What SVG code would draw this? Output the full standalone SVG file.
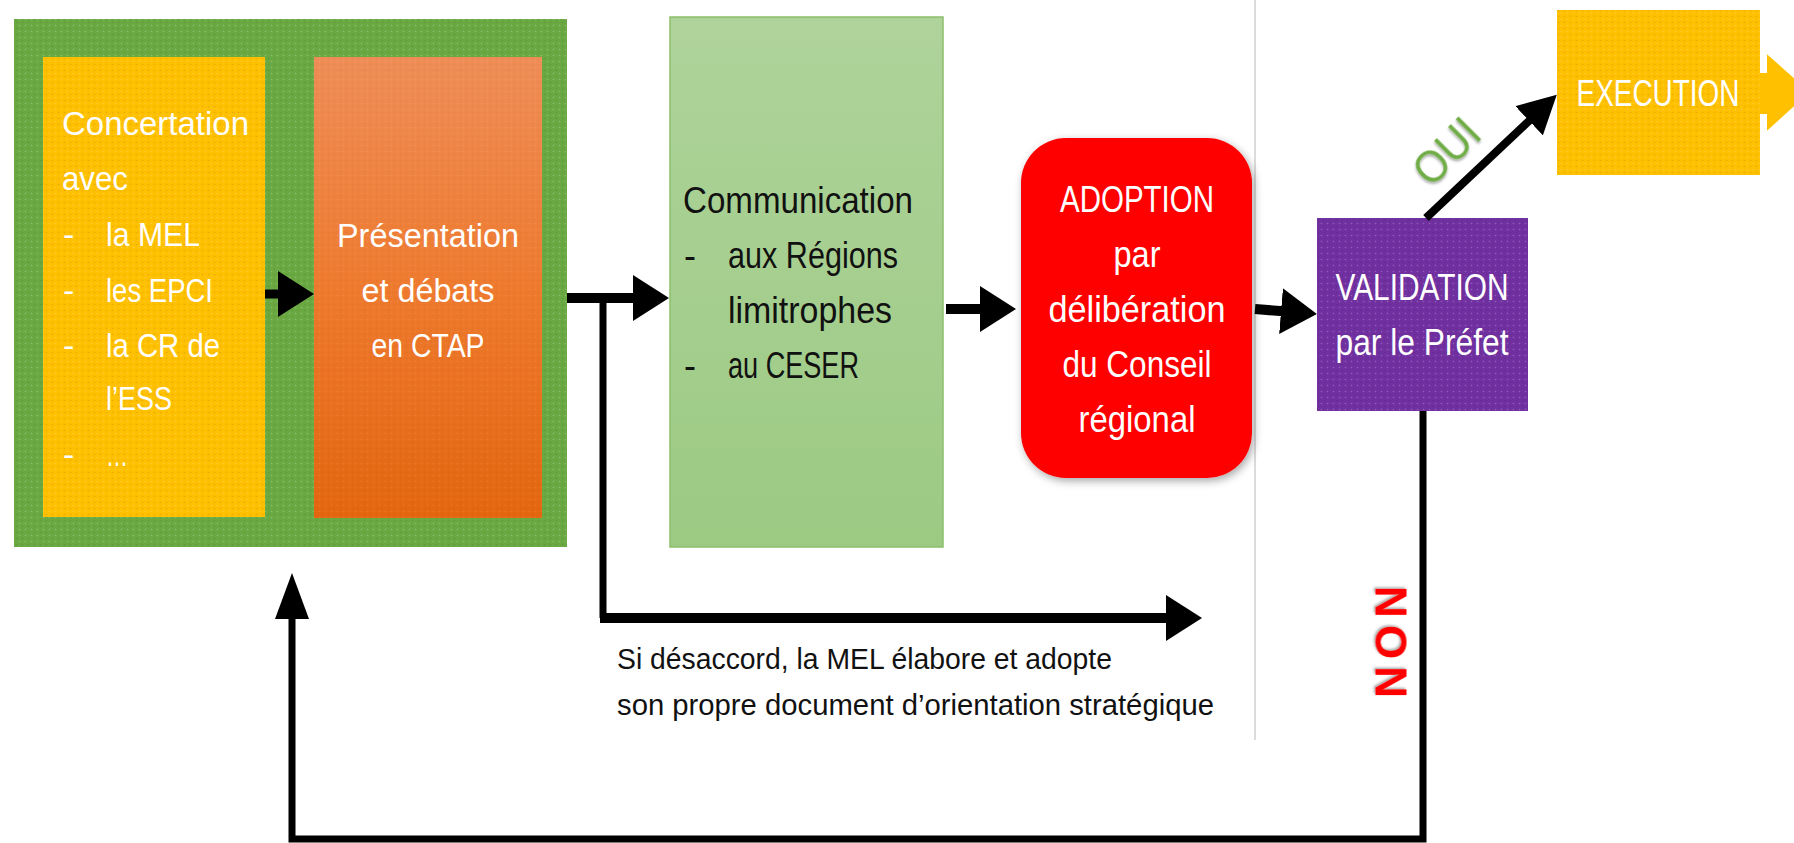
<svg xmlns="http://www.w3.org/2000/svg" width="1794" height="843" viewBox="0 0 1794 843">
<style>
  text { font-family: "Liberation Sans", Arial, sans-serif; }
  .w { fill: #ffffff; }
  .k { fill: #111111; }
  .t32 { font-size: 34px; }
  .t34 { font-size: 36px; }
  .mid { text-anchor: middle; }
  .conn { fill: none; stroke: #000; stroke-linejoin: miter; }
</style>
<defs>
  <pattern id="spk" width="6" height="6" patternUnits="userSpaceOnUse">
    <circle cx="1.5" cy="1.5" r="0.8" fill="#ffffff" opacity="0.22"/>
    <circle cx="4.5" cy="4.5" r="0.8" fill="#000000" opacity="0.10"/>
  </pattern>
  <linearGradient id="gOrange" x1="0" y1="0" x2="0" y2="1">
    <stop offset="0" stop-color="#EF8D57"/>
    <stop offset="0.5" stop-color="#EE7A2E"/>
    <stop offset="1" stop-color="#E4660F"/>
  </linearGradient>
  <linearGradient id="gLight" x1="0" y1="0" x2="0" y2="1">
    <stop offset="0" stop-color="#AFD39B"/>
    <stop offset="1" stop-color="#9CCA83"/>
  </linearGradient>
  <filter id="shadow" x="-20%" y="-20%" width="140%" height="140%">
    <feDropShadow dx="2" dy="3" stdDeviation="4" flood-color="#000" flood-opacity="0.35"/>
  </filter>
  <filter id="tshadow" x="-30%" y="-30%" width="160%" height="160%">
    <feDropShadow dx="-1.5" dy="1.5" stdDeviation="1.2" flood-color="#000" flood-opacity="0.35"/>
  </filter>
  <marker id="ah" viewBox="0 0 36 46" markerWidth="36" markerHeight="46" refX="6" refY="23" orient="auto" markerUnits="userSpaceOnUse">
    <path d="M0,0 L36,23 L0,46 Z" fill="#000"/>
  </marker>
  <marker id="ahUp" viewBox="0 0 46 34" markerWidth="46" markerHeight="34" refX="6" refY="17" orient="auto" markerUnits="userSpaceOnUse">
    <path d="M0,0 L46,17 L0,34 Z" fill="#000"/>
  </marker>
  <marker id="ahOui" viewBox="0 0 38 40" markerWidth="38" markerHeight="40" refX="6" refY="20" orient="auto" markerUnits="userSpaceOnUse">
    <path d="M0,0 L38,20 L0,40 Z" fill="#000"/>
  </marker>
</defs>

<rect x="0" y="0" width="1794" height="843" fill="#ffffff"/>

<!-- separator -->
<line x1="1255" y1="0" x2="1255" y2="740" stroke="#cfcfcf" stroke-width="1.5"/>

<!-- Outer green phase container -->
<g id="phase-elaboration">
  <rect x="14" y="19" width="553" height="528" fill="#6AA842"/>
  <rect x="14" y="19" width="553" height="528" fill="url(#spk)"/>
</g>

<g id="node-concertation">
  <rect x="43" y="57" width="222" height="460" fill="#FFC000"/>
  <rect x="43" y="57" width="222" height="460" fill="url(#spk)"/>
  <g class="w t32">
    <text x="62" y="135" textLength="187" lengthAdjust="spacingAndGlyphs">Concertation</text>
    <text x="62" y="190" textLength="66" lengthAdjust="spacingAndGlyphs">avec</text>
    <text x="63" y="246">-</text><text x="106" y="246" textLength="94" lengthAdjust="spacingAndGlyphs">la MEL</text>
    <text x="63" y="302">-</text><text x="106" y="302" textLength="107" lengthAdjust="spacingAndGlyphs">les EPCI</text>
    <text x="63" y="357">-</text><text x="106" y="357" textLength="114" lengthAdjust="spacingAndGlyphs">la CR de</text>
    <text x="106" y="410" textLength="66" lengthAdjust="spacingAndGlyphs">l’ESS</text>
    <text x="63" y="466">-</text><text x="106" y="466" textLength="22" lengthAdjust="spacingAndGlyphs">…</text>
  </g>
</g>

<g id="node-presentation">
  <rect x="314" y="57" width="228" height="461" fill="url(#gOrange)"/>
  <rect x="314" y="57" width="228" height="461" fill="url(#spk)" opacity="0.5"/>
  <g class="w t32 mid">
    <text x="428" y="247" textLength="182" lengthAdjust="spacingAndGlyphs">Présentation</text>
    <text x="428" y="302" textLength="133" lengthAdjust="spacingAndGlyphs">et débats</text>
    <text x="428" y="357" textLength="113" lengthAdjust="spacingAndGlyphs">en CTAP</text>
  </g>
</g>

<g id="node-communication">
  <rect x="670" y="17" width="273" height="530" fill="url(#gLight)" stroke="#8CBE6C" stroke-width="1.5"/>
  <g class="k t34">
    <text x="683" y="213" textLength="230" lengthAdjust="spacingAndGlyphs">Communication</text>
    <text x="684" y="268">-</text><text x="728" y="268" textLength="170" lengthAdjust="spacingAndGlyphs">aux Régions</text>
    <text x="728" y="323" textLength="164" lengthAdjust="spacingAndGlyphs">limitrophes</text>
    <text x="684" y="378">-</text><text x="728" y="378" textLength="131" lengthAdjust="spacingAndGlyphs">au CESER</text>
  </g>
</g>

<g id="node-adoption">
  <rect x="1021" y="138" width="231" height="340" rx="45" ry="45" fill="#FF0000" filter="url(#shadow)"/>
  <g class="w t34 mid">
    <text x="1137" y="212" textLength="154" lengthAdjust="spacingAndGlyphs">ADOPTION</text>
    <text x="1137" y="267" textLength="47" lengthAdjust="spacingAndGlyphs">par</text>
    <text x="1137" y="322" textLength="177" lengthAdjust="spacingAndGlyphs">délibération</text>
    <text x="1137" y="377" textLength="149" lengthAdjust="spacingAndGlyphs">du Conseil</text>
    <text x="1137" y="432" textLength="117" lengthAdjust="spacingAndGlyphs">régional</text>
  </g>
</g>

<g id="node-validation">
  <rect x="1317" y="218" width="211" height="193" fill="#7030A0"/>
  <rect x="1317" y="218" width="211" height="193" fill="url(#spk)"/>
  <g class="w t34 mid">
    <text x="1422" y="300" textLength="173" lengthAdjust="spacingAndGlyphs">VALIDATION</text>
    <text x="1422" y="355" textLength="173" lengthAdjust="spacingAndGlyphs">par le Préfet</text>
  </g>
</g>

<g id="node-execution">
  <polygon points="1740,72 1766,72 1766,52 1811,92 1766,133 1766,115 1740,115" fill="#FFC000" stroke="#ffffff" stroke-width="2"/>
  <rect x="1557" y="10" width="203" height="165" fill="#FFC000"/>
  <rect x="1557" y="10" width="203" height="165" fill="url(#spk)"/>
  <text class="w t34 mid" x="1658" y="106" textLength="163" lengthAdjust="spacingAndGlyphs">EXECUTION</text>
</g>

<g id="connectors">
  <!-- Concertation -> Présentation -->
  <path class="conn" d="M265,294 H284" stroke-width="9" marker-end="url(#ah)"/>
  <!-- Phase -> Communication -->
  <path class="conn" d="M567,298 H639" stroke-width="10" marker-end="url(#ah)"/>
  <!-- branch: disagreement -->
  <path class="conn" d="M603,298 V618" stroke-width="7"/>
  <path class="conn" d="M600,618 H1172" stroke-width="10" marker-end="url(#ah)"/>
  <!-- Communication -> Adoption -->
  <path class="conn" d="M946,309 H986" stroke-width="10" marker-end="url(#ah)"/>
  <!-- Adoption -> Validation -->
  <path class="conn" d="M1255,309 L1287,311.6" stroke-width="10" marker-end="url(#ah)"/>
  <!-- Validation -> Execution (OUI) -->
  <path class="conn" d="M1426,218 L1533.5,116.7" stroke-width="8" marker-end="url(#ahOui)"/>
  <!-- Validation -> back (NON) -->
  <path class="conn" d="M1423,411 V839 H292 V613" stroke-width="7" marker-end="url(#ahUp)"/>

  <text x="1447" y="152" transform="rotate(-45 1447 152)" dy="15" font-size="46" fill="#6FAD46" text-anchor="middle" textLength="74" lengthAdjust="spacingAndGlyphs" filter="url(#tshadow)">OUI</text>
  <text transform="translate(1391.5,642) rotate(90)" x="0" y="15.5" font-size="44" font-weight="bold" fill="#FF0000" text-anchor="middle" textLength="112" lengthAdjust="spacing" filter="url(#tshadow)">NON</text>

  <g class="k" font-size="30">
    <text x="617" y="669" textLength="495" lengthAdjust="spacingAndGlyphs">Si désaccord, la MEL élabore et adopte</text>
    <text x="617" y="715" textLength="597" lengthAdjust="spacingAndGlyphs">son propre document d’orientation stratégique</text>
  </g>
</g>
</svg>
